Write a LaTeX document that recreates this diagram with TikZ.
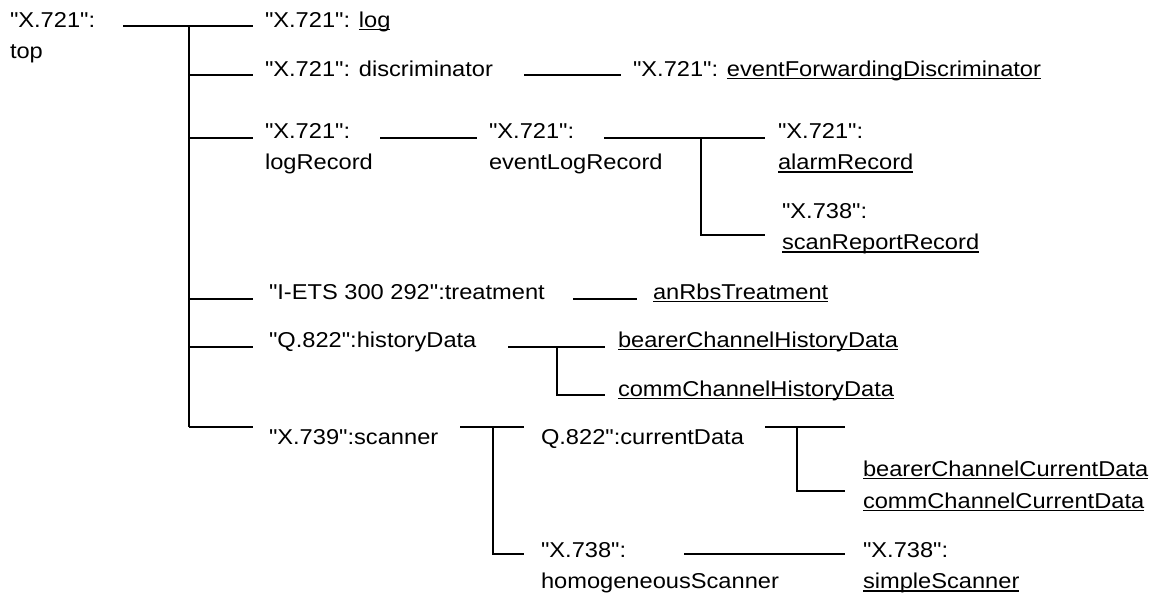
\documentclass[tikz,border=0pt]{standalone}
\usepackage{fontspec}
\setmainfont{Liberation Sans}[FakeStretch=1.1, Ligatures=TeXOff]
% underline drawn just under the baseline, crossing descenders
\newcommand{\ulin}[1]{{\setbox0\hbox{#1}\rlap{\rule[-3.2pt]{\wd0}{1.4pt}}\box0}}
% two stacked lines, baseline on the first one
\newcommand{\twoline}[2]{\begin{tabular}[t]{@{}l@{}}#1\\#2\end{tabular}}

\begin{document}
\begin{tikzpicture}[x=1pt,y=-1pt,
  lbl/.style={anchor=base west, inner sep=0pt, outer sep=0pt,
              font=\fontsize{21.5}{31.5}\selectfont},
  conn/.style={line width=2.6pt, line cap=butt}]
\useasboundingbox (0,0) rectangle (1162,595);

% ---------- labels ----------
\node[lbl] (top)   at (10,27)   {\twoline{"X.721":}{top}};
\node[lbl] (log)   at (265,27)  {"X.721": \ulin{log}};
\node[lbl] (disc)  at (265,76)  {"X.721": discriminator};
\node[lbl] (efd)   at (633,76)  {"X.721": \ulin{eventForwardingDiscriminator}};
\node[lbl] (logr)  at (265,138) {\twoline{"X.721":}{logRecord}};
\node[lbl] (elr)   at (489,138) {\twoline{"X.721":}{eventLogRecord}};
\node[lbl] (alarm) at (778,138) {\twoline{"X.721":}{\ulin{alarmRecord}}};
\node[lbl] (srr)   at (782,218) {\twoline{"X.738":}{\ulin{scanReportRecord}}};
\node[lbl] (treat) at (269,299) {"I-ETS 300 292":treatment};
\node[lbl] (anrbs) at (653,299) {\ulin{anRbsTreatment}};
\node[lbl] (hist)  at (269,347) {"Q.822":historyData};
\node[lbl] (bchd)  at (618,347) {\ulin{bearerChannelHistoryData}};
\node[lbl] (cchd)  at (618,396) {\ulin{commChannelHistoryData}};
\node[lbl] (scan)  at (269,444) {"X.739":scanner};
\node[lbl] (curd)  at (541,444) {Q.822":currentData};
\node[lbl] (bccd)  at (863,476) {\ulin{bearerChannelCurrentData}};
\node[lbl] (cccd)  at (863,508) {\ulin{commChannelCurrentData}};
\node[lbl] (homs)  at (541,557) {\twoline{"X.738":}{homogeneousScanner}};
\node[lbl] (sims)  at (863,557) {\twoline{"X.738":}{\ulin{simpleScanner}}};

% ---------- connector points ----------
% root and trunk
\coordinate (r0) at (123,26);
\coordinate (t0) at (189,26);
\coordinate (t1) at (189,75);
\coordinate (t2) at (189,138);
\coordinate (t3) at (189,299);
\coordinate (t4) at (189,347);
\coordinate (t5) at (189,427);
\coordinate (e0) at (253,26);
\coordinate (e1) at (253,75);
\coordinate (e2) at (253,138);
\coordinate (e3) at (253,299);
\coordinate (e4) at (253,347);
\coordinate (e5) at (253,427);
% discriminator
\coordinate (d0) at (524,75);
\coordinate (d1) at (621,75);
% logRecord
\coordinate (l0) at (380,138);
\coordinate (l1) at (477,138);
% eventLogRecord
\coordinate (v0) at (604,138);
\coordinate (v1) at (701,138);
\coordinate (v2) at (765,138);
\coordinate (v3) at (765,235);
% treatment
\coordinate (a0) at (573,299);
\coordinate (a1) at (637,299);
% historyData
\coordinate (h0) at (508,347);
\coordinate (h1) at (557,347);
\coordinate (h2) at (605,347);
\coordinate (h3) at (605,395);
% scanner
\coordinate (s0) at (460,427);
\coordinate (s1) at (493,427);
\coordinate (s2) at (524,427);
\coordinate (s3) at (524,554);
% currentData
\coordinate (c0) at (765,427);
\coordinate (c1) at (797,427);
\coordinate (c2) at (845,427);
\coordinate (c3) at (845,491);
% homogeneousScanner
\coordinate (g0) at (684,554);
\coordinate (g1) at (845,554);

% ---------- connectors ----------
\draw[conn] (r0) -- (e0);
\draw[conn] (t0) -- (t5);
\draw[conn] (t1) -- (e1);
\draw[conn] (t2) -- (e2);
\draw[conn] (t3) -- (e3);
\draw[conn] (t4) -- (e4);
\draw[conn] (t5) -- (e5);
\draw[conn] (d0) -- (d1);
\draw[conn] (l0) -- (l1);
\draw[conn] (v0) -- (v2);
\draw[conn] (v1) |- (v3);
\draw[conn] (a0) -- (a1);
\draw[conn] (h0) -- (h2);
\draw[conn] (h1) |- (h3);
\draw[conn] (s0) -- (s2);
\draw[conn] (s1) |- (s3);
\draw[conn] (c0) -- (c2);
\draw[conn] (c1) |- (c3);
\draw[conn] (g0) -- (g1);
\end{tikzpicture}
\end{document}
